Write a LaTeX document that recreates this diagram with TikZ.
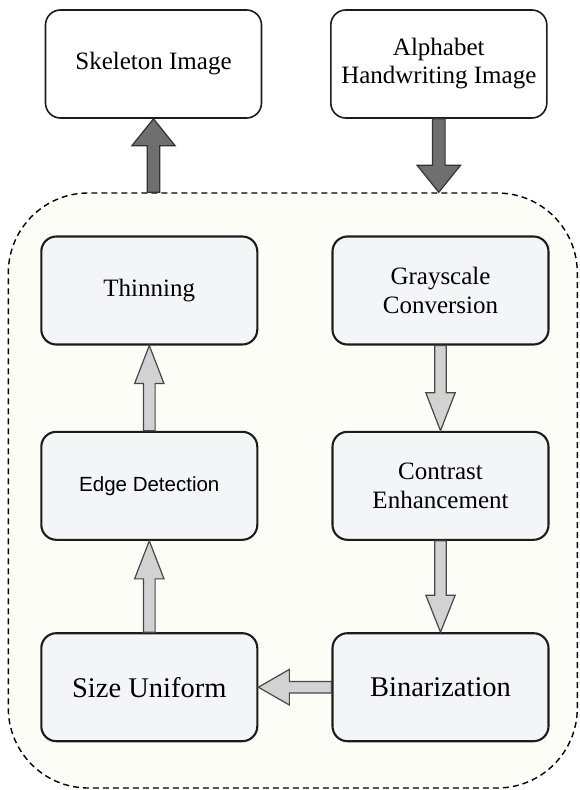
\documentclass[tikz,border=0pt]{standalone}
\usepackage{fontspec}
\setmainfont{Liberation Serif}
\newfontfamily\arialfont{Liberation Sans}
\usetikzlibrary{calc}

\definecolor{stagefill}{HTML}{FDFDF8}
\definecolor{boxfill}{HTML}{F4F5F7}
\definecolor{darkarrow}{HTML}{6F6F6F}
\definecolor{lightarrow}{HTML}{D2D2D2}
\definecolor{boxline}{HTML}{1C1C1C}

% block arrow from #2 to #3: shaft half width #4, head half width #5, head length #6
\newcommand\blockarrow[6]{%
  \coordinate (ba-head) at ($(#3)!#6!(#2)$);
  \draw[#1] ($(#2)!#4!90:(#3)$) -- ($(ba-head)!#4!90:(#3)$)
    -- ($(ba-head)!#5!90:(#3)$) -- (#3)
    -- ($(ba-head)!#5!-90:(#3)$) -- ($(ba-head)!#4!-90:(#3)$)
    -- ($(#2)!#4!-90:(#3)$) -- cycle;
}

\tikzset{
  iobox/.style={draw=boxline, line width=1.6pt, fill=white, rounded corners=15pt,
    minimum width=216pt, minimum height=108pt, align=center,
    font=\fontsize{25}{28}\selectfont},
  stepbox/.style={draw=boxline, line width=2.1pt, fill=boxfill, rounded corners=15pt,
    minimum width=216pt, minimum height=108pt, align=center,
    font=\fontsize{25}{29}\selectfont},
  bigtext/.style={font=\fontsize{28.5}{32}\selectfont},
  stage/.style={draw=black, line width=1.4pt, dash pattern=on 6pt off 4pt,
    fill=stagefill, rounded corners=80pt, minimum width=569pt, minimum height=595pt},
  darkblk/.style={draw=black!80, fill=darkarrow, line width=1.2pt, line join=miter},
  lightblk/.style={draw=black!72, fill=lightarrow, line width=1.2pt, line join=miter},
}

\begin{document}
\begin{tikzpicture}[x=1pt, y=-1pt]
  \useasboundingbox (0,0) rectangle (579,790);

  % processing stage
  \node[stage] (stage) at (292.8,490.5) {};

  % input and output images
  \node[iobox] (skel) at (153.5,64) {Skeleton Image};
  \node[iobox] (alpha) at (438.8,64) {Alphabet\\Handwriting Image};

  % processing steps
  \node[stepbox] (thin) at (149.3,290.5) {Thinning};
  \node[stepbox] (gray) at (440.5,290.5) {Grayscale\\Conversion};
  \node[stepbox, font=\arialfont\fontsize{20.5}{24}\selectfont] (edge) at (149.3,485.8) {Edge Detection};
  \node[stepbox] (contr) at (440.5,485.8) {Contrast\\Enhancement};
  \node[stepbox, bigtext] (size) at (149.3,687.2) {Size Uniform};
  \node[stepbox, bigtext] (bin) at (440.5,687.2) {Binarization};

  % links to the outer images
  \coordinate (outtail) at (skel.south |- stage.north);
  \coordinate (inhead) at (alpha.south |- stage.north);
  \blockarrow{darkblk}{outtail}{skel.south}{6.3pt}{21.7pt}{27pt}
  \blockarrow{darkblk}{alpha.south}{inhead}{6.3pt}{21.7pt}{27pt}

  % flow between the steps
  \blockarrow{lightblk}{gray.south}{contr.north}{5.8pt}{14.7pt}{38pt}
  \blockarrow{lightblk}{contr.south}{bin.north}{5.8pt}{14.7pt}{37pt}
  \blockarrow{lightblk}{bin.west}{size.east}{5.8pt}{17.8pt}{31pt}
  \blockarrow{lightblk}{size.north}{edge.south}{5.8pt}{14.7pt}{38pt}
  \blockarrow{lightblk}{edge.north}{thin.south}{5.8pt}{14.7pt}{38pt}
\end{tikzpicture}
\end{document}
